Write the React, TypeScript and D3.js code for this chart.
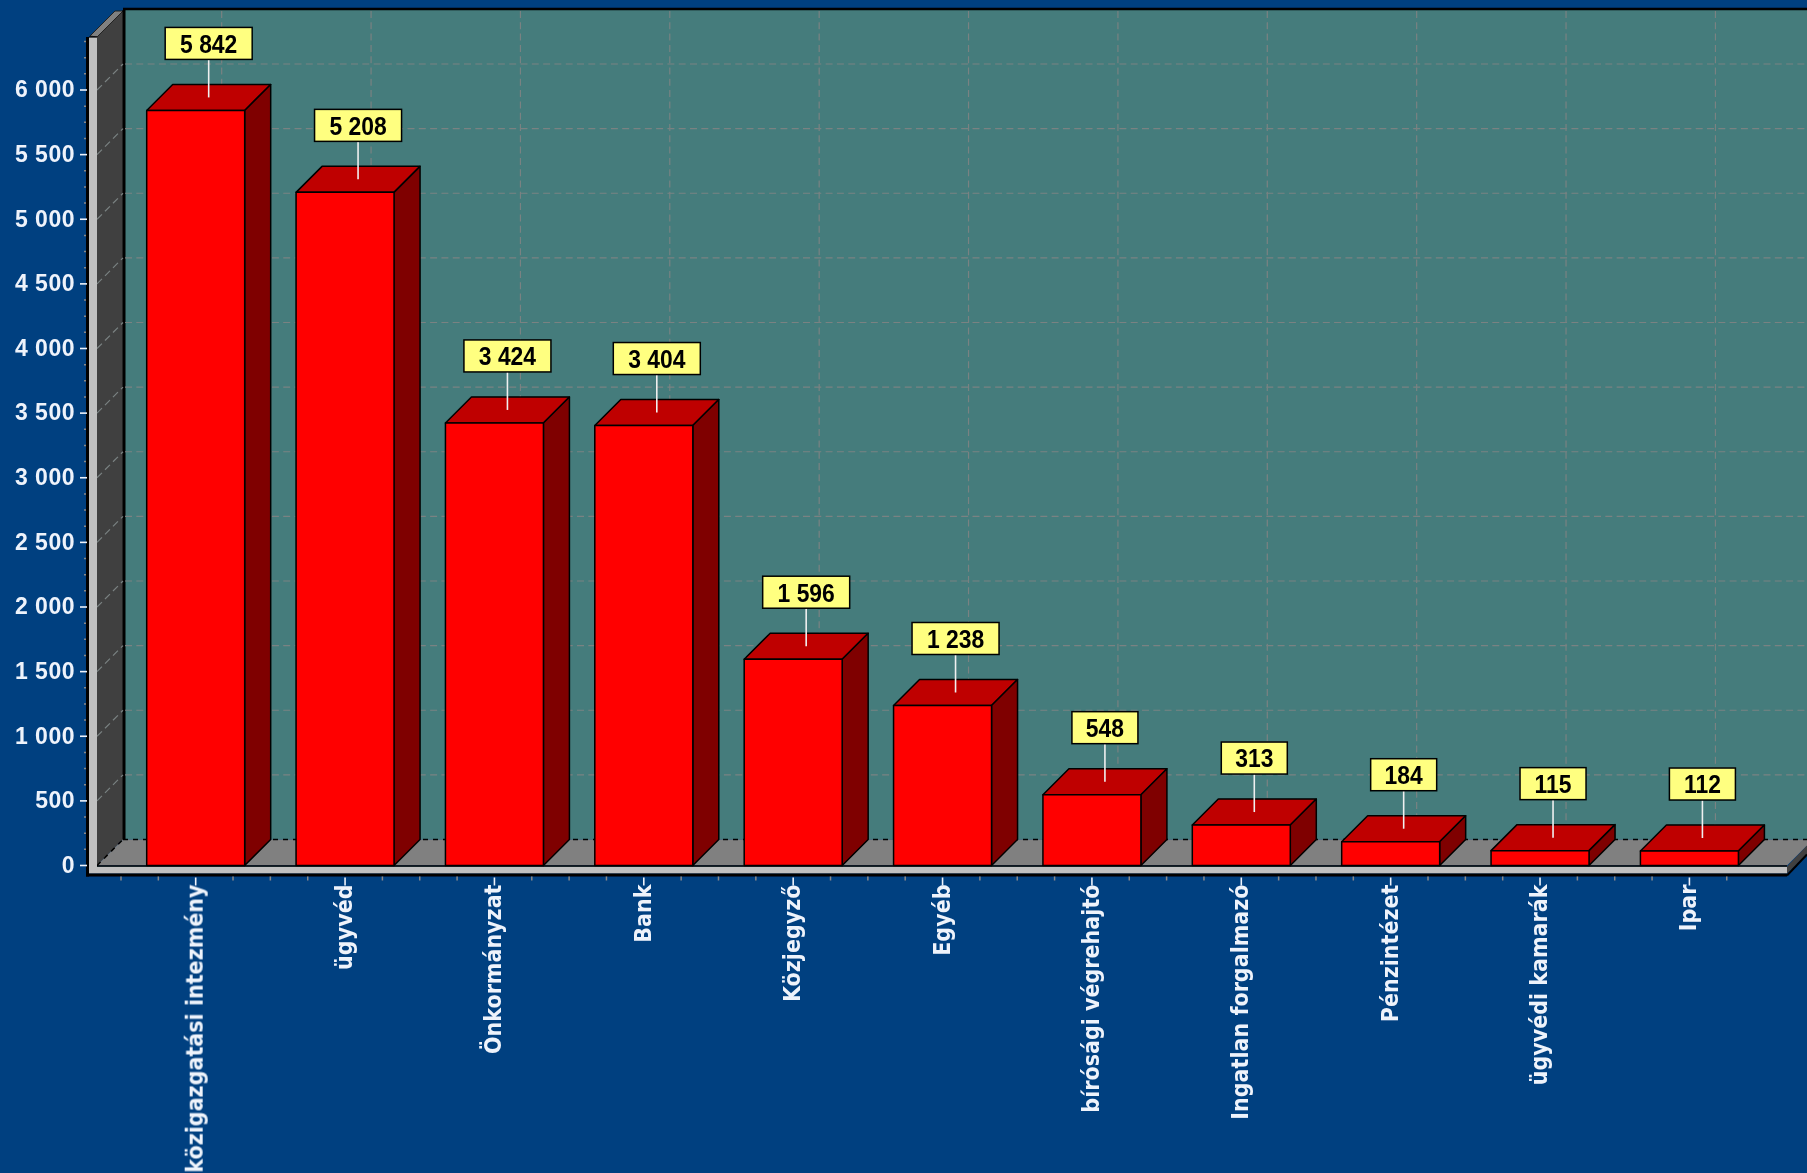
import * as d3 from "d3";

const categories = [
  "közigazgatási intezmény",
  "ügyvéd",
  "Önkormányzat",
  "Bank",
  "Közjegyző",
  "Egyéb",
  "bírósági végrehajtó",
  "Ingatlan forgalmazó",
  "Pénzintézet",
  "ügyvédi kamarák",
  "Ipar",
];
const values = [5842, 5208, 3424, 3404, 1596, 1238, 548, 313, 184, 115, 112];
const yTicks = [0, 500, 1000, 1500, 2000, 2500, 3000, 3500, 4000, 4500, 5000, 5500, 6000];

const width = 1807;
const height = 1173;
const depth = 26;
const font = "'Liberation Sans', sans-serif";
const catFont = "'DejaVu Sans', sans-serif";

const colors = {
  page: "#003f80",
  wall: "#447c7c",
  grid: "#7a8282",
  floor: "#808080",
  side: "#404040",
  strip: "#c0c0c0",
  front: "#ff0000",
  top: "#bf0000",
  right: "#7f0000",
  label: "#ffff80",
  text: "#eef3fb",
};

const nf = d3.formatLocale({ decimal: ",", thousands: " ", grouping: [3], currency: ["", ""] }).format(",d");

const x = d3.scaleBand<string>().domain(categories).range([121, 1764.1]).paddingInner(0.344).paddingOuter(0.172);
const y = d3.scaleLinear().domain([0, 6000]).range([865.5, 90]);

const poly = d3.line().curve(d3.curveLinearClosed);

const left = 97;
const right = 1787;
const base = y(0);
const axisTop = 37;
const minorY = d3.range(0, y.invert(axisTop), 125).filter((v) => v % 500 !== 0);
const minorX = categories.flatMap((c) => {
  const step = x.step();
  const c0 = (x(c) ?? 0) + x.bandwidth() / 2;
  return [c0 - step / 2, c0 - step / 4, c0 + step / 4];
});

export default function App() {
  return (
    <svg
      width={width}
      height={height}
      viewBox={`0 0 ${width} ${height}`}
      style={{ position: "fixed", left: 0, top: 0 }}
    >
      <defs>
        <filter id="soft" x="0" y="0" width="100%" height="100%">
          <feGaussianBlur stdDeviation="0.45" />
        </filter>
      </defs>
      <g filter="url(#soft)">
        <rect width={width} height={height} fill={colors.page} />

        {/* back wall */}
        <rect x={left + depth + 2} y={9} width={width} height={base - depth - 9} fill={colors.wall} />
        <line x1={left + depth} x2={width} y1={9} y2={9} stroke="#000" strokeWidth={2.5} />

        {/* left wall and floor */}
        <path
          d={poly([
            [left, axisTop],
            [left + depth, 11],
            [left + depth, base - depth],
            [left, base],
          ]) ?? undefined}
          fill={colors.side}
        />
        <path
          d={poly([
            [left - 7, axisTop - 1],
            [left + depth - 8, 11],
            [left + depth, 11],
            [left, axisTop],
          ]) ?? undefined}
          fill={colors.floor}
          stroke="#222"
          strokeWidth={1}
        />
        <line x1={left + depth + 1} x2={left + depth + 1} y1={10} y2={base - depth} stroke="#000" strokeWidth={3} />
        <path
          d={poly([
            [left, base],
            [left + depth, base - depth],
            [width, base - depth],
            [width, base - depth + 6],
            [right, base],
          ]) ?? undefined}
          fill={colors.floor}
        />
        <line
          x1={left + depth}
          x2={width}
          y1={base - depth}
          y2={base - depth}
          stroke="#000"
          strokeWidth={1.5}
          strokeDasharray="5 5"
        />
        <line
          x1={left}
          x2={left + depth}
          y1={base}
          y2={base - depth}
          stroke="#000"
          strokeWidth={1.5}
          strokeDasharray="5 5"
        />

        {/* grid */}
        {yTicks.slice(1).map((t) => (
          <g key={t} stroke={colors.grid} strokeWidth={1.2} fill="none">
            <line x1={left + depth + 2} x2={width} y1={y(t) - depth} y2={y(t) - depth} strokeDasharray="7 4.3" />
            <line x1={left} x2={left + depth} y1={y(t)} y2={y(t) - depth} strokeDasharray="7 4.3" />
          </g>
        ))}
        {categories.map((c) => {
          const gx = (x(c) ?? 0) + x.bandwidth() / 2 + depth;
          return (
            <line
              key={c}
              x1={gx}
              x2={gx}
              y1={11}
              y2={base - depth}
              stroke={colors.grid}
              strokeWidth={1.2}
              strokeDasharray="7 4.3"
            />
          );
        })}

        {/* axis strips */}
        <rect x={left - 8} y={axisTop} width={8} height={base - axisTop + 8} fill={colors.strip} />
        <rect x={left - 11} y={axisTop} width={3} height={base - axisTop + 11} fill="#000" />
        <line x1={left - 8} x2={left} y1={axisTop} y2={axisTop} stroke="#000" strokeWidth={1.2} />
        <rect x={left} y={base + 1} width={right - left} height={7} fill={colors.strip} />
        <rect x={left - 11} y={base + 8} width={right - left + 11} height={3} fill="#000" />
        <line x1={left} x2={right} y1={base + 0.5} y2={base + 0.5} stroke="#000" strokeWidth={1.5} />
        <path
          d={poly([
            [right, base + 1],
            [width, base - depth + 6],
            [width, base - depth + 14],
            [right, base + 8],
          ]) ?? undefined}
          fill={colors.side}
        />
        <line x1={right} x2={width} y1={base + 10} y2={base - depth + 15} stroke="#000" strokeWidth={2} />

        {/* bars */}
        {categories.map((c, i) => {
          const x0 = x(c) ?? 0;
          const x1 = x0 + x.bandwidth();
          const top = y(values[i]);
          return (
            <g key={c} stroke="#000" strokeWidth={1.5} strokeLinejoin="round">
              <path
                d={poly([
                  [x0, top],
                  [x0 + depth, top - depth],
                  [x1 + depth, top - depth],
                  [x1, top],
                ]) ?? undefined}
                fill={colors.top}
              />
              <path
                d={poly([
                  [x1, top],
                  [x1 + depth, top - depth],
                  [x1 + depth, base - depth],
                  [x1, base],
                ]) ?? undefined}
                fill={colors.right}
              />
              <rect x={x0} y={top} width={x.bandwidth()} height={base - top} fill={colors.front} />
            </g>
          );
        })}

        {/* y axis */}
        {minorY.map((t) => (
          <line key={t} x1={84} x2={86} y1={y(t)} y2={y(t)} stroke="#8a8a8a" strokeWidth={1.5} />
        ))}
        {yTicks.map((t) => (
          <g key={t}>
            <line x1={80} x2={87} y1={y(t)} y2={y(t)} stroke={colors.text} strokeWidth={1.6} />
            <text
              x={75}
              y={y(t) - 1}
              dy="0.36em"
              textAnchor="end"
              fill={colors.text}
              fontFamily={font}
              fontWeight="bold"
              fontSize={23}
              letterSpacing={0.5}
            >
              {nf(t)}
            </text>
          </g>
        ))}

        {/* x axis */}
        {minorX.map((v) => (
          <line key={v} x1={v} x2={v} y1={base + 11} y2={base + 15} stroke="#8a8a8a" strokeWidth={1.5} />
        ))}
        {categories.map((c) => {
          const cx = (x(c) ?? 0) + x.bandwidth() / 2;
          return (
            <g key={c}>
              <line x1={cx} x2={cx} y1={base + 12} y2={base + 20} stroke={colors.text} strokeWidth={1.6} />
              <text
                transform={`translate(${cx + 7},${base + 19}) rotate(-90)`}
                textAnchor="end"
                fill={colors.text}
                fontFamily={catFont}
                fontStretch="condensed"
                fontWeight="bold"
                fontSize={23}
              >
                {c}
              </text>
            </g>
          );
        })}

        {/* value labels */}
        {categories.map((c, i) => {
          const cx = (x(c) ?? 0) + x.bandwidth() / 2 + depth / 2;
          const end = y(values[i]) - depth / 2;
          const label = nf(values[i]);
          const w = 34.5 + 10.5 * label.length;
          return (
            <g key={c}>
              <line x1={cx} x2={cx} y1={end - 38} y2={end} stroke="#f0f0f0" strokeWidth={1.6} />
              <rect x={cx - w / 2} y={end - 70} width={w} height={32} fill={colors.label} stroke="#000" strokeWidth={1.5} />
              <text
                transform={`translate(${cx},${end - 54}) scale(0.88,1)`}
                dy="0.36em"
                textAnchor="middle"
                fill="#000"
                fontFamily={font}
                fontWeight="bold"
                fontSize={26}
              >
                {label}
              </text>
            </g>
          );
        })}
      </g>
    </svg>
  );
}
